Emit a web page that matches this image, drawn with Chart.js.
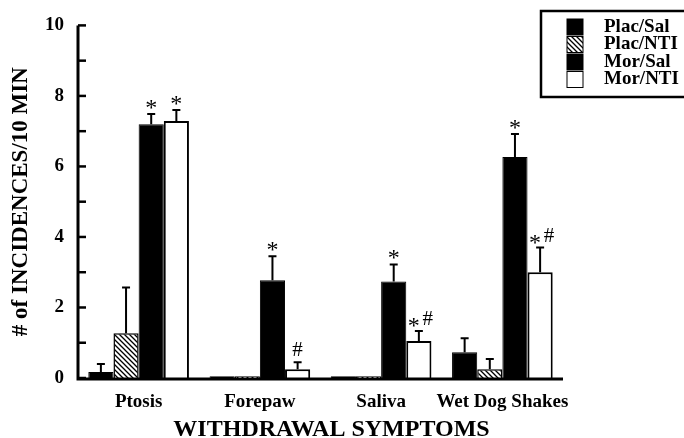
<!DOCTYPE html>
<html>
<head>
<meta charset="utf-8">
<script src="https://cdn.jsdelivr.net/npm/chart.js@4.4.1/dist/chart.umd.min.js"></script>
<style>
  html, body { margin: 0; padding: 0; background: #fff; }
  #wrap { position: relative; width: 684px; height: 438px; }
</style>
</head>
<body>
<div id="wrap"><canvas id="chart" width="684" height="438"></canvas></div>
<script>
// categories and values
const categories = ['Ptosis', 'Forepaw', 'Saliva', 'Wet Dog Shakes'];
const seriesNames = ['Plac/Sal', 'Plac/NTI', 'Mor/Sal', 'Mor/NTI'];

const placSal = [0.17, 0.05, 0.05, 0.73];
const placSalErr = [0.23, 0, 0, 0.4];
const placNti = [1.27, 0.05, 0.05, 0.25];
const placNtiErr = [1.3, 0, 0, 0.29];
const morSal = [7.2, 2.77, 2.74, 6.27];
const morSalErr = [0.29, 0.68, 0.48, 0.65];
const morNti = [7.29, 0.25, 1.05, 3.0];
const morNtiErr = [0.31, 0.2, 0.28, 0.7];

const morSalMarks = ['*', '*', '*', '*'];
const morNtiMarks = ['*', '#', '*#', '*#'];

const yTickLabels = [0, 2, 4, 6, 8, 10];

const FONT = '"Liberation Serif", "DejaVu Serif", serif';

// diagonal hatch like the Plac/NTI bars
function makeHatch() {
  const c = document.createElement('canvas');
  c.width = 5; c.height = 5;
  const g = c.getContext('2d');
  g.fillStyle = '#fff';
  g.fillRect(0, 0, 5, 5);
  g.strokeStyle = '#000';
  g.lineWidth = 1.3;
  g.beginPath();
  g.moveTo(-1, -1); g.lineTo(6, 6);
  g.moveTo(-1, 4); g.lineTo(1, 6);
  g.moveTo(4, -1); g.lineTo(6, 1);
  g.stroke();
  return g.createPattern(c, 'repeat');
}

const hatch = makeHatch();

const errorBars = {
  id: 'errorBars',
  afterDatasetsDraw(chart) {
    const ctx = chart.ctx;
    const y = chart.scales.y;
    ctx.save();
    ctx.strokeStyle = '#000';
    ctx.lineWidth = 2;
    chart.data.datasets.forEach((ds, i) => {
      const meta = chart.getDatasetMeta(i);
      meta.data.forEach((bar, j) => {
        const e = ds.errors[j];
        if (!e) return;
        const top = y.getPixelForValue(ds.data[j] + e);
        ctx.beginPath();
        ctx.moveTo(bar.x, bar.y);
        ctx.lineTo(bar.x, top);
        ctx.moveTo(bar.x - 4, top);
        ctx.lineTo(bar.x + 4, top);
        ctx.stroke();
        const m = ds.marks && ds.marks[j];
        if (m) {
          ctx.fillStyle = '#000';
          ctx.textAlign = 'center';
          ctx.textBaseline = 'alphabetic';
          if (m === '*#') {
            ctx.font = '24px ' + FONT;
            ctx.fillText('*', bar.x - 5, top + 2);
            ctx.font = '21px ' + FONT;
            ctx.fillText('#', bar.x + 9, top - 6);
          } else if (m === '#') {
            ctx.font = '21px ' + FONT;
            ctx.fillText('#', bar.x, top - 6);
          } else {
            ctx.font = '24px ' + FONT;
            ctx.fillText('*', bar.x, top + 1);
          }
        }
      });
    });
    ctx.restore();
  }
};

// thick axes with inward ticks every 0.5, plus the x title
const axesDraw = {
  id: 'axesDraw',
  afterDraw(chart) {
    const ctx = chart.ctx;
    const y = chart.scales.y;
    const a = chart.chartArea;
    ctx.save();
    ctx.strokeStyle = '#000';
    ctx.lineWidth = 3;
    ctx.beginPath();
    ctx.moveTo(a.left, y.getPixelForValue(10));
    ctx.lineTo(a.left, a.bottom + 1);
    ctx.lineTo(a.right, a.bottom + 1);
    ctx.stroke();
    ctx.lineWidth = 2.5;
    y.ticks.forEach(t => {
      const py = y.getPixelForValue(t.value);
      ctx.beginPath();
      ctx.moveTo(a.left, py);
      ctx.lineTo(a.left + 8, py);
      ctx.stroke();
    });
    ctx.fillStyle = '#000';
    ctx.font = 'bold 24px ' + FONT;
    ctx.textAlign = 'center';
    ctx.textBaseline = 'alphabetic';
    ctx.fillText('WITHDRAWAL SYMPTOMS', (a.left + a.right) / 2 + 11, 436);
    ctx.restore();
  }
};

new Chart(document.getElementById('chart'), {
  type: 'bar',
  data: {
    labels: categories,
    datasets: [
      { label: seriesNames[0], data: placSal, errors: placSalErr, backgroundColor: '#000', borderColor: '#000', borderWidth: 1 },
      { label: seriesNames[1], data: placNti, errors: placNtiErr, backgroundColor: hatch, borderColor: '#000', borderWidth: 1.5 },
      { label: seriesNames[2], data: morSal, errors: morSalErr, marks: morSalMarks, backgroundColor: '#000', borderColor: '#000', borderWidth: 1 },
      { label: seriesNames[3], data: morNti, errors: morNtiErr, marks: morNtiMarks, backgroundColor: '#fff', borderColor: '#000', borderWidth: 2 }
    ]
  },
  options: {
    responsive: false,
    animation: false,
    layout: { padding: { left: 0, right: 121, top: 23, bottom: 0 } },
    datasets: { bar: { categoryPercentage: 0.83, barPercentage: 1, borderSkipped: 'bottom' } },
    plugins: {
      legend: { display: false },
      tooltip: { enabled: false }
    },
    scales: {
      x: {
        grid: { display: false, drawTicks: false },
        border: { display: false },
        ticks: { color: '#000', font: { family: FONT, size: 19, weight: 'bold' }, padding: 13, maxRotation: 0, autoSkip: false },
        afterFit(s) { s.height = 60; }
      },
      y: {
        min: 0, max: 10,
        grid: { display: false, drawTicks: false },
        border: { display: false },
        ticks: {
          stepSize: 0.5, color: '#000', padding: 14,
          font: { family: FONT, size: 19, weight: 'bold' },
          callback: v => yTickLabels.includes(v) ? String(v) : ''
        },
        title: { display: true, text: '# of INCIDENCES/10 MIN', color: '#000', font: { family: FONT, size: 23, weight: 'bold' }, padding: { top: 7, bottom: 0 } },
        afterFit(s) { s.width = 78; }
      }
    }
  },
  plugins: [errorBars, axesDraw, {
    id: 'boxLegend',
    afterDraw(chart) {
      const ctx = chart.ctx;
      const fills = chart.data.datasets.map(d => d.backgroundColor);
      ctx.save();
      ctx.strokeStyle = '#000';
      ctx.lineWidth = 2.5;
      ctx.strokeRect(541, 11, 150, 86);
      ctx.font = 'bold 19px ' + FONT;
      ctx.textBaseline = 'middle';
      ctx.textAlign = 'left';
      seriesNames.forEach((n, i) => {
        const cy = 27 + i * 17.5;
        ctx.fillStyle = fills[i];
        ctx.fillRect(567, cy - 8, 16, 16);
        ctx.lineWidth = 1;
        ctx.strokeRect(567, cy - 8, 16, 16);
        ctx.fillStyle = '#000';
        ctx.fillText(n, 604, cy);
      });
      ctx.restore();
    }
  }]
});
</script>
</body>
</html>
